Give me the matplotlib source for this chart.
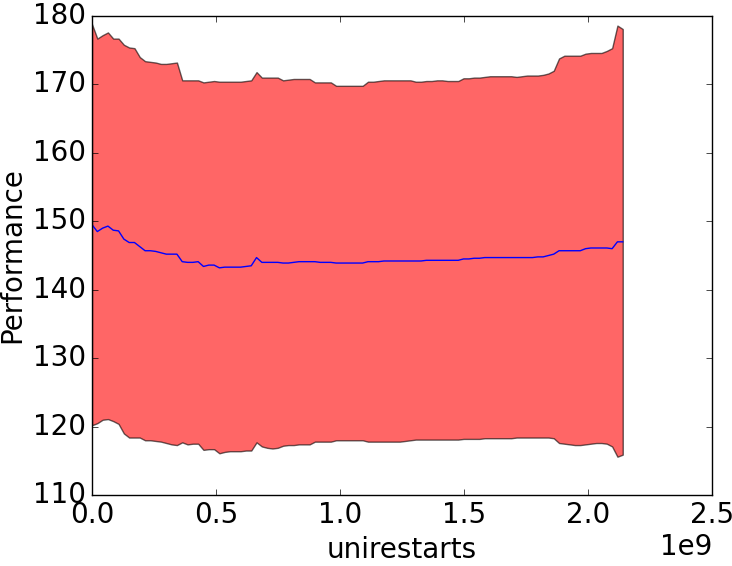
import numpy as np
import matplotlib
matplotlib.use('Agg')
import matplotlib.pyplot as plt

# steps from 0 to ~2^31, 101 evenly spaced samples
steps = np.linspace(0, 2.14e9, 101)

upper = [178.8, 176.7, 177.2, 177.6, 176.7, 176.7, 175.8, 175.4, 175.3, 174.0,
         173.4, 173.3, 173.2, 173.0, 173.0, 173.1, 173.2, 170.6, 170.6, 170.6,
         170.6, 170.3, 170.4, 170.5, 170.4, 170.4, 170.4, 170.4, 170.4, 170.5,
         170.6, 171.8, 171.0, 171.0, 171.0, 171.0, 170.6, 170.7, 170.8, 170.8,
         170.8, 170.8, 170.3, 170.3, 170.3, 170.3, 169.8, 169.8, 169.8, 169.8,
         169.8, 169.8, 170.4, 170.4, 170.5, 170.6, 170.6, 170.6, 170.6, 170.6,
         170.6, 170.4, 170.4, 170.5, 170.5, 170.6, 170.6, 170.5, 170.5, 170.5,
         170.9, 170.9, 171.0, 171.0, 171.1, 171.2, 171.2, 171.2, 171.2, 171.2,
         171.1, 171.2, 171.3, 171.3, 171.3, 171.4, 171.6, 172.0, 173.8, 174.2,
         174.2, 174.2, 174.2, 174.5, 174.6, 174.6, 174.6, 174.9, 175.3, 178.6,
         178.1]

mean = [149.5, 148.5, 149.0, 149.3, 148.7, 148.6, 147.4, 146.9, 146.9, 146.3,
        145.7, 145.7, 145.6, 145.4, 145.2, 145.2, 145.2, 144.1, 144.0, 144.0,
        144.1, 143.4, 143.6, 143.6, 143.2, 143.3, 143.3, 143.3, 143.3, 143.4,
        143.5, 144.7, 144.0, 144.0, 144.0, 144.0, 143.9, 143.9, 144.0, 144.1,
        144.1, 144.1, 144.1, 144.0, 144.0, 144.0, 143.9, 143.9, 143.9, 143.9,
        143.9, 143.9, 144.1, 144.1, 144.1, 144.2, 144.2, 144.2, 144.2, 144.2,
        144.2, 144.2, 144.2, 144.3, 144.3, 144.3, 144.3, 144.3, 144.3, 144.3,
        144.5, 144.5, 144.6, 144.6, 144.7, 144.7, 144.7, 144.7, 144.7, 144.7,
        144.7, 144.7, 144.7, 144.7, 144.8, 144.8, 145.0, 145.2, 145.7, 145.7,
        145.7, 145.7, 145.7, 146.0, 146.1, 146.1, 146.1, 146.1, 146.0, 147.0,
        147.0]

lower = [120.2, 120.5, 121.0, 121.1, 120.8, 120.4, 119.0, 118.4, 118.4, 118.4,
         118.0, 118.0, 117.9, 117.8, 117.6, 117.4, 117.3, 117.7, 117.4, 117.5,
         117.5, 116.6, 116.7, 116.7, 116.1, 116.3, 116.4, 116.4, 116.4, 116.5,
         116.5, 117.7, 117.1, 116.9, 116.8, 116.9, 117.2, 117.3, 117.3, 117.4,
         117.4, 117.4, 117.8, 117.8, 117.8, 117.8, 118.0, 118.0, 118.0, 118.0,
         118.0, 118.0, 117.8, 117.8, 117.8, 117.8, 117.8, 117.8, 117.8, 117.9,
         118.0, 118.1, 118.1, 118.1, 118.1, 118.1, 118.1, 118.1, 118.1, 118.1,
         118.2, 118.2, 118.2, 118.2, 118.3, 118.3, 118.3, 118.3, 118.3, 118.3,
         118.4, 118.4, 118.4, 118.4, 118.4, 118.4, 118.4, 118.3, 117.6, 117.5,
         117.4, 117.3, 117.3, 117.4, 117.5, 117.6, 117.6, 117.5, 117.1, 115.6,
         115.9]

plt.style.use('classic')
plt.rcParams['font.size'] = 20

fig = plt.figure(figsize=(7.32, 5.66), dpi=100)
fig.patch.set_facecolor('white')
ax = fig.add_subplot()
fig.subplots_adjust(left=0.1257, right=0.9727, top=0.9717, bottom=0.1254)

ax.fill_between(steps, lower, upper, facecolor='red', alpha=0.6)
ax.plot(steps, mean, color='blue')

ax.set_xlim(0, 2.5e9)
ax.set_ylim(110, 180)
ax.set_xlabel('unirestarts')
ax.set_ylabel('Performance')

fig.savefig('out.png', dpi=100, facecolor='white')
